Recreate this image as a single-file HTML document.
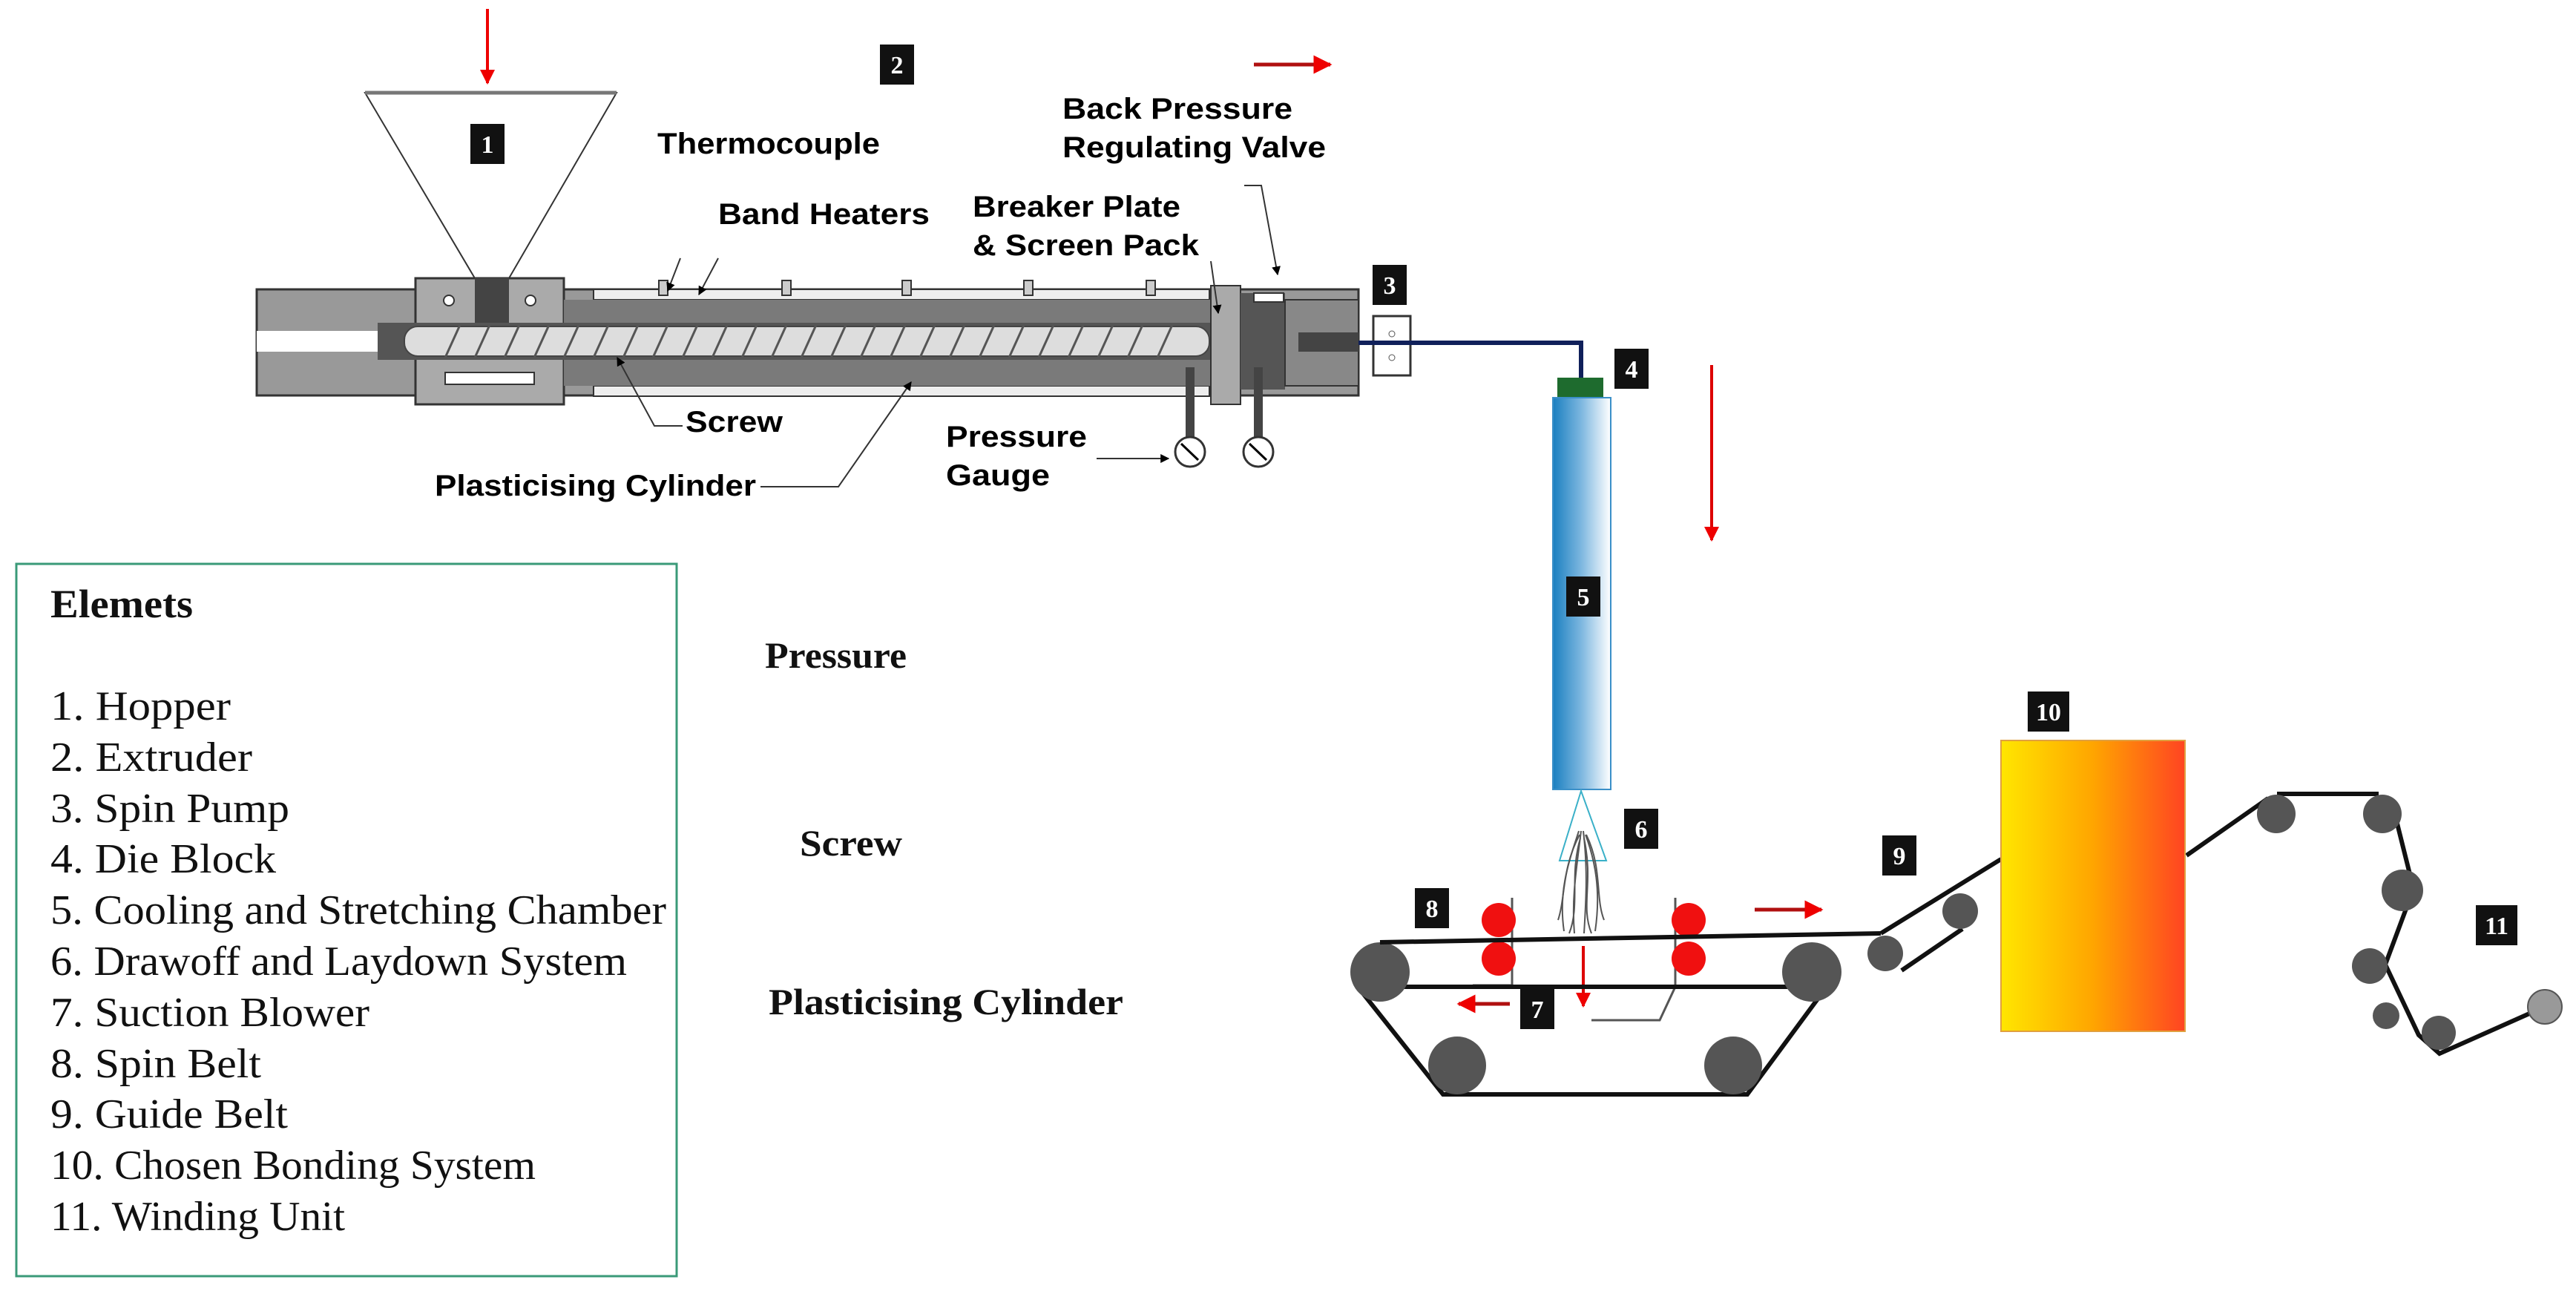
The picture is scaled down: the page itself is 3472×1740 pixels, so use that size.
<!DOCTYPE html>
<html><head><meta charset="utf-8"><style>html,body{margin:0;padding:0;background:#fff}svg{display:block}</style></head>
<body>
<svg width="3472" height="1740" viewBox="0 0 3472 1740" xmlns="http://www.w3.org/2000/svg">
<defs>
<linearGradient id="blue" x1="0" x2="1" y1="0" y2="0"><stop offset="0" stop-color="#1a7fc0"/><stop offset="0.5" stop-color="#7fb8e0"/><stop offset="1" stop-color="#ffffff"/></linearGradient>
<linearGradient id="heat" x1="0" x2="1" y1="0" y2="0"><stop offset="0" stop-color="#ffe600"/><stop offset="0.5" stop-color="#ffa500"/><stop offset="1" stop-color="#ff4422"/></linearGradient>
<marker id="ar" viewBox="0 0 10 10" refX="9" refY="5" markerWidth="5" markerHeight="5" orient="auto"><path d="M0,0L10,5L0,10z" fill="#e00"/></marker>
<marker id="ak" viewBox="0 0 10 10" refX="9" refY="5" markerWidth="6" markerHeight="6" orient="auto"><path d="M0,0L10,5L0,10z" fill="#000"/></marker>
</defs>
<g font-family="Liberation Sans, Arial, sans-serif" font-weight="bold">
<!-- hopper -->
<polygon points="492,125 831,125 686,375 640,375" fill="#fff" stroke="#333" stroke-width="2"/>
<line x1="492" y1="125" x2="831" y2="125" stroke="#777" stroke-width="5"/>
<line x1="657" y1="12" x2="657" y2="112" stroke="#e00" stroke-width="4" marker-end="url(#ar)"/>
<line x1="1690" y1="87" x2="1793" y2="87" stroke="#b01010" stroke-width="5" marker-end="url(#ar)"/>
<!-- extruder body -->
<rect x="346" y="390" width="1485" height="143" fill="#999" stroke="#333" stroke-width="3"/>
<rect x="346" y="446" width="200" height="28" fill="#fff"/>
<rect x="560" y="375" width="200" height="170" fill="#aaa" stroke="#333" stroke-width="3"/>
<rect x="640" y="375" width="46" height="60" fill="#444"/>
<circle cx="605" cy="405" r="7" fill="#fff" stroke="#333" stroke-width="2"/>
<circle cx="715" cy="405" r="7" fill="#fff" stroke="#333" stroke-width="2"/>
<rect x="600" y="502" width="120" height="16" fill="#fff" stroke="#333" stroke-width="2"/>
<rect x="800" y="390" width="830" height="14" fill="#eee" stroke="#333" stroke-width="2"/>
<rect x="800" y="520" width="830" height="14" fill="#eee" stroke="#333" stroke-width="2"/>
<rect x="760" y="404" width="872" height="116" fill="#7a7a7a"/>
<rect x="509" y="435" width="1128" height="50" fill="#555"/>
<rect x="545" y="440" width="1085" height="40" rx="18" fill="#ddd" stroke="#444" stroke-width="2"/>
<g stroke="#555" stroke-width="3">
<line x1="600" y1="482" x2="620" y2="438"/><line x1="640" y1="482" x2="660" y2="438"/><line x1="680" y1="482" x2="700" y2="438"/><line x1="720" y1="482" x2="740" y2="438"/><line x1="760" y1="482" x2="780" y2="438"/><line x1="800" y1="482" x2="820" y2="438"/><line x1="840" y1="482" x2="860" y2="438"/><line x1="880" y1="482" x2="900" y2="438"/><line x1="920" y1="482" x2="940" y2="438"/><line x1="960" y1="482" x2="980" y2="438"/><line x1="1000" y1="482" x2="1020" y2="438"/><line x1="1040" y1="482" x2="1060" y2="438"/><line x1="1080" y1="482" x2="1100" y2="438"/><line x1="1120" y1="482" x2="1140" y2="438"/><line x1="1160" y1="482" x2="1180" y2="438"/><line x1="1200" y1="482" x2="1220" y2="438"/><line x1="1240" y1="482" x2="1260" y2="438"/><line x1="1280" y1="482" x2="1300" y2="438"/><line x1="1320" y1="482" x2="1340" y2="438"/><line x1="1360" y1="482" x2="1380" y2="438"/><line x1="1400" y1="482" x2="1420" y2="438"/><line x1="1440" y1="482" x2="1460" y2="438"/><line x1="1480" y1="482" x2="1500" y2="438"/><line x1="1520" y1="482" x2="1540" y2="438"/><line x1="1560" y1="482" x2="1580" y2="438"/>
</g>
<g fill="#ccc" stroke="#333" stroke-width="2">
<rect x="888" y="378" width="12" height="20"/><rect x="1054" y="378" width="12" height="20"/><rect x="1216" y="378" width="12" height="20"/><rect x="1380" y="378" width="12" height="20"/><rect x="1545" y="378" width="12" height="20"/>
</g>
<rect x="1632" y="385" width="40" height="160" fill="#aaa" stroke="#333" stroke-width="2"/>
<rect x="1672" y="395" width="60" height="130" fill="#555"/>
<rect x="1732" y="404" width="99" height="116" fill="#888" stroke="#333" stroke-width="2"/>
<rect x="1690" y="395" width="40" height="12" fill="#fff" stroke="#333" stroke-width="2"/>
<rect x="1750" y="448" width="81" height="26" fill="#444"/>
<rect x="1598" y="495" width="12" height="95" fill="#444"/>
<rect x="1690" y="495" width="12" height="95" fill="#444"/>
<circle cx="1604" cy="609" r="20" fill="#fff" stroke="#333" stroke-width="3"/>
<circle cx="1696" cy="609" r="20" fill="#fff" stroke="#333" stroke-width="3"/>
<line x1="1592" y1="598" x2="1615" y2="620" stroke="#000" stroke-width="3"/>
<line x1="1684" y1="598" x2="1707" y2="620" stroke="#000" stroke-width="3"/>
<!-- leader lines -->
<g stroke="#333" stroke-width="2" fill="none">
<polyline points="1025,656 1130,656 1228,515" marker-end="url(#ak)"/>
<polyline points="920,574 882,574 832,482" marker-end="url(#ak)"/>
<polyline points="1478,618 1575,618" marker-end="url(#ak)"/>
<line x1="917" y1="348" x2="900" y2="392" marker-end="url(#ak)"/>
<line x1="968" y1="348" x2="942" y2="397" marker-end="url(#ak)"/>
<line x1="1632" y1="352" x2="1642" y2="422" marker-end="url(#ak)"/>
<polyline points="1677,250 1700,250 1722,370" marker-end="url(#ak)"/>
</g>
<!-- spin pump -->
<rect x="1851" y="426" width="50" height="80" fill="#fff" stroke="#333" stroke-width="3"/>
<circle cx="1876" cy="450" r="4" fill="none" stroke="#555"/><circle cx="1876" cy="482" r="4" fill="none" stroke="#555"/>
<polyline points="1831,462 2131,462 2131,509" fill="none" stroke="#10205a" stroke-width="6"/>
<rect x="2099" y="509" width="62" height="27" fill="#1e6b2e"/>
<rect x="2093" y="536" width="78" height="528" fill="url(#blue)" stroke="#3a8fc8" stroke-width="2"/>
<line x1="2307" y1="492" x2="2307" y2="728" stroke="#d00" stroke-width="4" marker-end="url(#ar)"/>
<!-- labels -->
<g font-size="40">
<text x="886" y="207" textLength="300" lengthAdjust="spacingAndGlyphs">Thermocouple</text>
<text x="1432" y="160" textLength="310" lengthAdjust="spacingAndGlyphs">Back Pressure</text>
<text x="1432" y="212" textLength="355" lengthAdjust="spacingAndGlyphs">Regulating Valve</text>
<text x="968" y="302" textLength="285" lengthAdjust="spacingAndGlyphs">Band Heaters</text>
<text x="1311" y="292" textLength="280" lengthAdjust="spacingAndGlyphs">Breaker Plate</text>
<text x="1311" y="344" textLength="305" lengthAdjust="spacingAndGlyphs">&amp; Screen Pack</text>
<text x="924" y="582" textLength="131" lengthAdjust="spacingAndGlyphs">Screw</text>
<text x="586" y="668" textLength="433" lengthAdjust="spacingAndGlyphs">Plasticising Cylinder</text>
<text x="1275" y="602" textLength="190" lengthAdjust="spacingAndGlyphs">Pressure</text>
<text x="1275" y="654" textLength="140" lengthAdjust="spacingAndGlyphs">Gauge</text>
</g>
</g>
<!-- number boxes -->
<g font-family="Liberation Serif, serif" font-weight="bold" font-size="34" fill="#fff" text-anchor="middle">
<rect x="634" y="167" width="46" height="54" fill="#111"/><text x="657" y="206">1</text>
<rect x="1186" y="60" width="46" height="54" fill="#111"/><text x="1209" y="99">2</text>
<rect x="1850" y="357" width="46" height="54" fill="#111"/><text x="1873" y="396">3</text>
<rect x="2176" y="470" width="46" height="54" fill="#111"/><text x="2199" y="509">4</text>
<rect x="2111" y="777" width="46" height="54" fill="#111"/><text x="2134" y="816">5</text>
<rect x="2189" y="1090" width="46" height="54" fill="#111"/><text x="2212" y="1129">6</text>
<rect x="2049" y="1333" width="46" height="54" fill="#111"/><text x="2072" y="1372">7</text>
<rect x="1907" y="1197" width="46" height="54" fill="#111"/><text x="1930" y="1236">8</text>
<rect x="2537" y="1126" width="46" height="54" fill="#111"/><text x="2560" y="1165">9</text>
<rect x="2733" y="932" width="56" height="54" fill="#111"/><text x="2761" y="971">10</text>
<rect x="3337" y="1220" width="56" height="54" fill="#111"/><text x="3365" y="1259">11</text>
</g>
<!-- legend -->
<rect x="22" y="760" width="890" height="960" fill="#fff" stroke="#3a9a78" stroke-width="3"/>
<g font-family="Liberation Serif, serif" font-size="56" fill="#111" lengthAdjust="spacingAndGlyphs">
<text x="68" y="832" font-weight="bold" font-size="54" textLength="192" lengthAdjust="spacingAndGlyphs">Elemets</text>
<text x="68" y="970" textLength="243" lengthAdjust="spacingAndGlyphs">1.  Hopper</text>
<text x="68" y="1039" textLength="272" lengthAdjust="spacingAndGlyphs">2.  Extruder</text>
<text x="68" y="1108" textLength="322" lengthAdjust="spacingAndGlyphs">3.  Spin Pump</text>
<text x="68" y="1176" textLength="304" lengthAdjust="spacingAndGlyphs">4.  Die Block</text>
<text x="68" y="1245" textLength="830" lengthAdjust="spacingAndGlyphs">5.  Cooling and Stretching Chamber</text>
<text x="68" y="1314" textLength="777" lengthAdjust="spacingAndGlyphs">6.  Drawoff and Laydown System</text>
<text x="68" y="1383" textLength="430" lengthAdjust="spacingAndGlyphs">7.  Suction Blower</text>
<text x="68" y="1452" textLength="284" lengthAdjust="spacingAndGlyphs">8.  Spin Belt</text>
<text x="68" y="1520" textLength="320" lengthAdjust="spacingAndGlyphs">9.  Guide Belt</text>
<text x="68" y="1589" textLength="654" lengthAdjust="spacingAndGlyphs">10. Chosen Bonding System</text>
<text x="68" y="1658" textLength="397" lengthAdjust="spacingAndGlyphs">11. Winding Unit</text>
</g>
<g font-family="Liberation Serif, serif" font-size="50" font-weight="bold" fill="#111">
<text x="1031" y="900" textLength="191" lengthAdjust="spacingAndGlyphs">Pressure</text>
<text x="1078" y="1153" textLength="138" lengthAdjust="spacingAndGlyphs">Screw</text>
<text x="1036" y="1367" textLength="478" lengthAdjust="spacingAndGlyphs">Plasticising Cylinder</text>
</g>
<!-- laydown -->
<polygon points="2131,1066 2102,1160 2165,1160" fill="none" stroke="#3ab0c8" stroke-width="2"/>
<g stroke="#555" stroke-width="2" fill="none">
<path d="M2128,1120 C2115,1160 2100,1200 2108,1255"/><path d="M2131,1120 C2125,1170 2118,1210 2122,1258"/><path d="M2134,1120 C2140,1170 2138,1210 2135,1258"/><path d="M2137,1125 C2150,1160 2158,1200 2150,1255"/><path d="M2130,1130 C2115,1180 2130,1220 2115,1258"/><path d="M2135,1130 C2148,1190 2130,1220 2145,1258"/><path d="M2129,1125 C2105,1170 2110,1210 2100,1240"/><path d="M2138,1125 C2160,1170 2150,1210 2162,1240"/>
</g>
<!-- suction lines -->
<g stroke="#555" stroke-width="3" fill="none">
<polyline points="2038,1210 2038,1328 1985,1328"/>
<polyline points="2258,1210 2258,1330 2237,1375 2145,1375"/>
</g>
<line x1="2134" y1="1275" x2="2134" y2="1356" stroke="#d00" stroke-width="4" marker-end="url(#ar)"/>
<line x1="2035" y1="1353" x2="1966" y2="1353" stroke="#b01010" stroke-width="5" marker-end="url(#ar)"/>
<line x1="2365" y1="1226" x2="2455" y2="1226" stroke="#b01010" stroke-width="5" marker-end="url(#ar)"/>
<!-- belts -->
<g stroke="#111" stroke-width="6" fill="none">
<polygon points="1830,1330 1945,1475 2355,1475 2462,1330"/>
<line x1="2535" y1="1258" x2="2697" y2="1158"/>
<line x1="2563" y1="1308" x2="2645" y2="1252"/>
<line x1="2947" y1="1153" x2="3057" y2="1076"/>
<line x1="3069" y1="1070" x2="3206" y2="1070"/>
<polyline points="3228,1098 3253,1198 3215,1300 3260,1395 3288,1420 3434,1355"/>
</g>
<g fill="#555">
<circle cx="1860" cy="1310" r="40"/><circle cx="2442" cy="1310" r="40"/>
<circle cx="1964" cy="1436" r="39"/><circle cx="2336" cy="1436" r="39"/>
<circle cx="2541" cy="1285" r="24"/><circle cx="2642" cy="1228" r="24"/>
<circle cx="3068" cy="1097" r="26"/><circle cx="3211" cy="1097" r="26"/>
<circle cx="3238" cy="1200" r="28"/><circle cx="3194" cy="1302" r="24"/>
<circle cx="3216" cy="1369" r="18"/><circle cx="3287" cy="1392" r="23"/>
</g>
<circle cx="3430" cy="1357" r="23" fill="#999" stroke="#555" stroke-width="2"/>
<g fill="#f01010">
<circle cx="2020" cy="1240" r="23"/><circle cx="2020" cy="1292" r="23"/>
<circle cx="2276" cy="1240" r="23"/><circle cx="2276" cy="1292" r="23"/>
</g>
<line x1="1860" y1="1270" x2="2535" y2="1258" stroke="#111" stroke-width="6"/>
<rect x="2697" y="998" width="248" height="392" fill="url(#heat)" stroke="#e0a040" stroke-width="2"/>
</svg>
</body></html>
